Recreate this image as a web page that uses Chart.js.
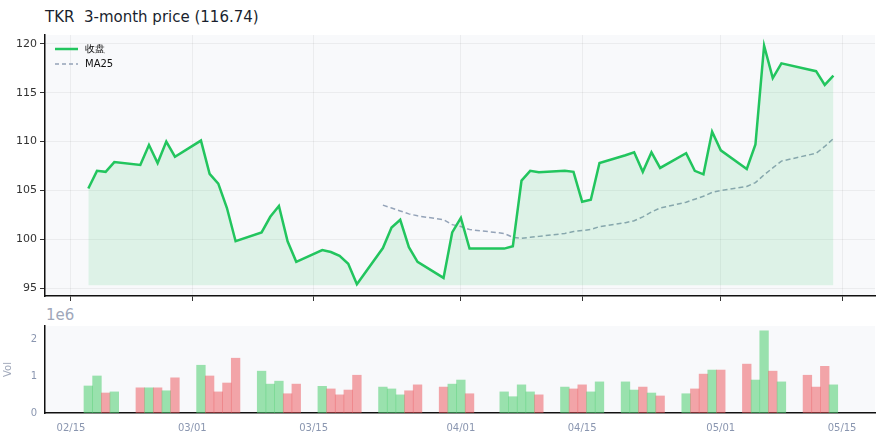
<!DOCTYPE html>
<html><head><meta charset="utf-8">
<script src="https://cdn.jsdelivr.net/npm/chart.js@4"></script>
<style>
body{margin:0;width:886px;height:445px;background:#fff;position:relative;overflow:hidden;font-family:"DejaVu Sans",sans-serif}
#t{position:absolute;left:45px;top:8px;font-size:15px;color:#1a1f2e}
#e{position:absolute;left:46px;top:306px;font-size:15px;color:#a0a8ba}
canvas{position:absolute;left:0}
</style></head><body>
<div id="t">TKR&nbsp; 3-month price (116.74)</div>
<div id="e">1e6</div>
<div style="position:absolute;left:0;top:0;width:886px;height:310px"><canvas id="c1"></canvas></div>
<div style="position:absolute;left:0;top:310px;width:886px;height:135px"><canvas id="c2"></canvas></div>
<script>
// day offsets from 02/15
const days=[2,3,4,5,8,9,10,11,12,15,16,17,18,19,22,23,24,25,26,29,30,31,32,33,36,37,38,39,40,43,44,45,46,50,51,52,53,54,57,58,59,60,61,64,65,66,67,68,71,72,73,74,75,78,79,80,81,82,85,86,87,88];
const close=[105.2,107.0,106.9,107.9,107.6,109.65,107.8,110.0,108.45,110.1,106.7,105.7,103.2,99.8,100.7,102.3,103.4,99.8,97.7,98.9,98.7,98.3,97.5,95.4,99.1,101.2,102.0,99.2,97.7,96.05,100.7,102.2,99.05,99.05,99.3,106.0,107.0,106.85,107.0,106.9,103.85,104.05,107.8,108.6,108.9,106.9,108.9,107.3,108.8,107.0,106.65,111.0,109.1,107.2,109.7,119.8,116.5,118.0,117.4,117.2,115.8,116.74];
const maDays=[36,37,38,39,40,43,44,45,46,50,51,52,53,54,57,58,59,60,61,64,65,66,67,68,71,72,73,74,75,78,79,80,81,82,85,86,87,88];
const ma25=[103.5,103.2,102.9,102.6,102.4,102.0,101.5,101.3,101.0,100.6,100.2,100.1,100.2,100.3,100.6,100.8,100.9,101.0,101.3,101.7,101.9,102.3,102.8,103.2,103.8,104.1,104.4,104.8,105.0,105.4,105.8,106.6,107.3,108.0,108.6,108.8,109.5,110.3];
const volume=[0.73,1.0,0.54,0.57,0.68,0.68,0.68,0.6,0.95,1.29,1.0,0.57,0.81,1.48,1.13,0.78,0.86,0.52,0.78,0.72,0.65,0.49,0.62,1.02,0.70,0.65,0.49,0.6,0.76,0.70,0.78,0.89,0.52,0.57,0.44,0.76,0.57,0.49,0.70,0.65,0.76,0.57,0.84,0.84,0.62,0.70,0.54,0.46,0.52,0.65,1.05,1.16,1.16,1.32,0.89,2.22,1.13,0.84,1.02,0.70,1.26,0.76];
const volUp=[1,1,0,1,0,1,0,1,0,1,0,0,0,0,1,1,1,0,0,1,0,0,0,0,1,1,1,0,0,0,1,1,0,1,1,1,1,0,1,0,0,1,1,1,1,0,1,0,1,0,0,1,0,0,1,1,0,1,0,0,0,1];
const tickDays=[0,14,28,45,59,75,89];
const tickLabels=['02/15','03/01','03/15','04/01','04/15','05/01','05/15'];
const priceTicks=[95,100,105,110,115,120];

const bg={id:'bg',beforeDraw(c){const a=c.chartArea,x=c.ctx;x.save();x.fillStyle='#f8f9fb';x.fillRect(a.left,a.top,a.right-a.left,a.bottom-a.top);x.restore();}};
const legend={id:'lg',afterDraw(c){const x=c.ctx,a=c.chartArea;x.save();
 x.font='10px "DejaVu Sans"';x.fillStyle='#111';x.textBaseline='middle';
 x.strokeStyle='#22c55e';x.lineWidth=2.5;x.beginPath();x.moveTo(a.left+10,a.top+14);x.lineTo(a.left+33,a.top+14);x.stroke();
 x.fillText(c.data.datasets[0].label,a.left+40,a.top+14);
 x.strokeStyle='#94a3b8';x.lineWidth=1.5;x.setLineDash([4,3]);x.beginPath();x.moveTo(a.left+10,a.top+29);x.lineTo(a.left+33,a.top+29);x.stroke();
 x.fillText(c.data.datasets[1].label,a.left+40,a.top+29);x.restore();}};
const xcommon=(labels)=>({type:'linear',min:-3,max:92.8,
 afterBuildTicks:s=>{s.ticks=tickDays.map(v=>({value:v}));},
 grid:{color:'rgba(0,0,0,0.05)',tickColor:'#333',tickLength:5,drawOnChartArea:true},
 border:{color:'#111',width:1.5},
 ticks:{display:labels,color:'#8a96b0',font:{size:10,family:'DejaVu Sans'},padding:4,maxRotation:0,callback:(v)=>tickLabels[tickDays.indexOf(v)]}});

new Chart(document.getElementById('c1'),{type:'line',
 data:{datasets:[
  {label:'收盘',data:days.map((d,i)=>({x:d,y:close[i]})),borderColor:'#22c55e',borderWidth:2.5,pointRadius:0,tension:0,fill:{value:95.3},backgroundColor:'rgba(34,197,94,0.12)'},
  {label:'MA25',data:maDays.map((d,i)=>({x:d,y:ma25[i]})),borderColor:'#94a3b8',borderWidth:1.5,borderDash:[5,3],pointRadius:0,fill:false}
 ]},
 options:{animation:false,responsive:true,maintainAspectRatio:false,
  layout:{padding:{top:35,right:11,left:0,bottom:0}},
  plugins:{legend:{display:false},tooltip:{enabled:false}},
  scales:{
   x:Object.assign(xcommon(false),{afterFit:s=>{s.height=14;}}),
   y:{min:94.2,max:120.9,afterBuildTicks:s=>{s.ticks=priceTicks.map(v=>({value:v}));},
    grid:{color:'rgba(0,0,0,0.05)',tickColor:'#333',tickLength:5},border:{color:'#111',width:1.5},
    ticks:{color:'#333',font:{size:11,family:'DejaVu Sans'},padding:3},afterFit:s=>{s.width=45;}}
  }},plugins:[bg,legend]});

new Chart(document.getElementById('c2'),{type:'bar',
 data:{datasets:[{label:'Vol',data:days.map((d,i)=>({x:d,y:volume[i]})),
  backgroundColor:volUp.map(u=>u?'rgba(74,205,110,0.55)':'rgba(235,80,85,0.5)'),barPercentage:1,categoryPercentage:1,borderWidth:0}]},
 options:{animation:false,responsive:true,maintainAspectRatio:false,
  layout:{padding:{top:16,right:11,left:0,bottom:0}},
  plugins:{legend:{display:false},tooltip:{enabled:false}},
  scales:{
   x:Object.assign(xcommon(true),{offset:false,grid:{display:false,drawOnChartArea:false,tickColor:'#333',tickLength:5},afterFit:s=>{s.height=32;}}),
   y:{min:0,max:2.35,afterBuildTicks:s=>{s.ticks=[0,1,2].map(v=>({value:v}));},
    grid:{display:false,tickColor:'#333',tickLength:5},border:{color:'#111',width:1.5},
    title:{display:true,text:'Vol',color:'#a0a8ba',font:{size:10,family:'DejaVu Sans'},padding:2},
    ticks:{color:'#8a96b0',font:{size:10,family:'DejaVu Sans'},padding:3},afterFit:s=>{s.width=45;}}
  }},plugins:[bg]});
</script></body></html>
